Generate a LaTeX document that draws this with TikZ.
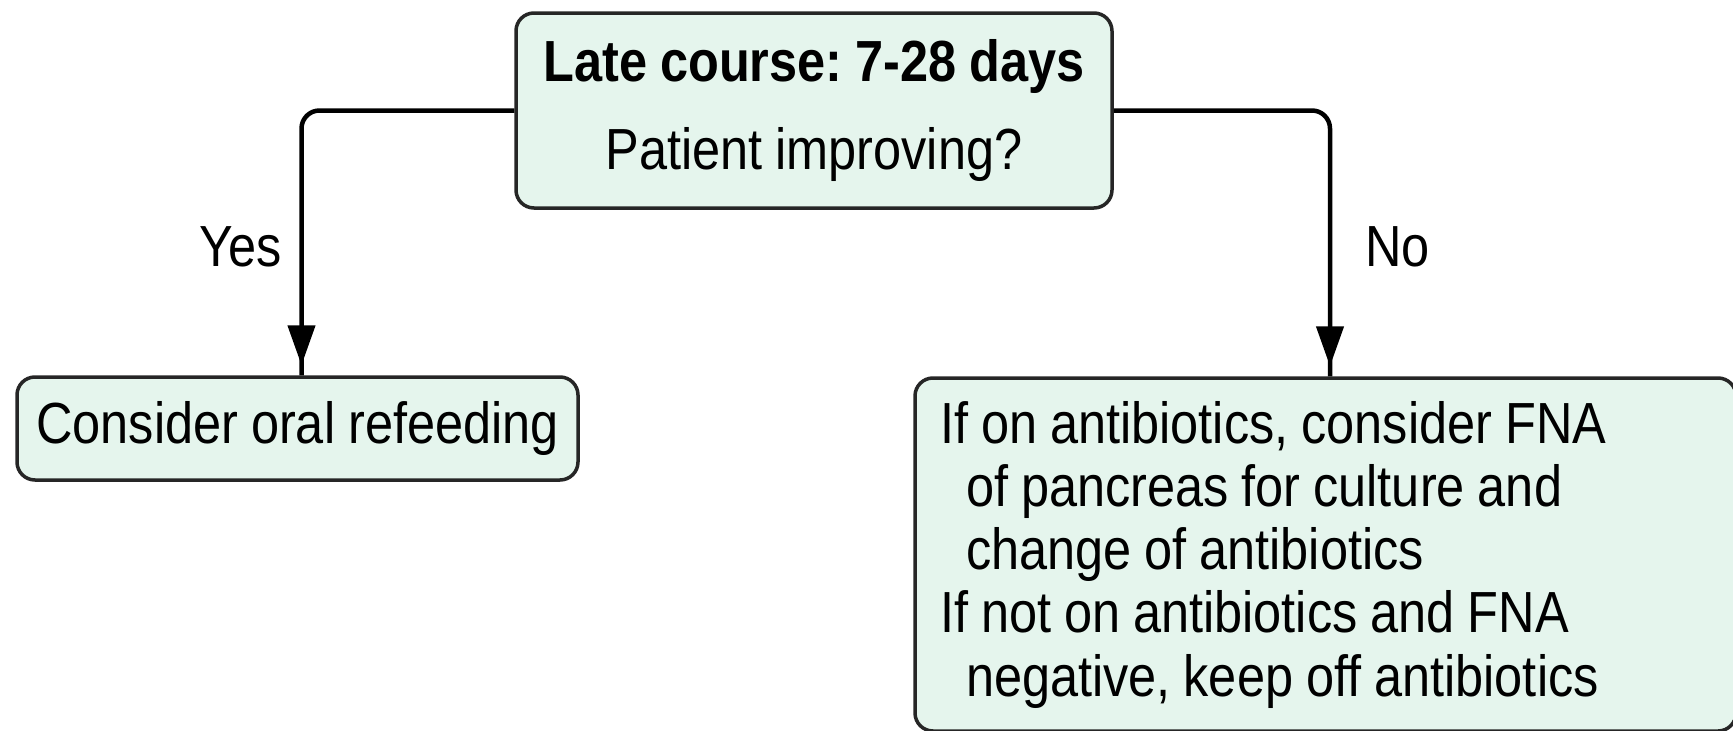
\documentclass[tikz,border=0pt]{standalone}
\usepackage{fontspec}
\setmainfont[FakeStretch=0.87]{Liberation Sans}
\usetikzlibrary{arrows.meta,decorations.markings}
\definecolor{boxfill}{RGB}{229,245,237}
\newcommand\diagfont{\fontsize{58}{63.25}\selectfont\setlength{\spaceskip}{13pt}\setlength{\xspaceskip}{13pt}}
\begin{document}
\begin{tikzpicture}[x=1pt,y=-1pt,
  box/.style={draw=black!85, line width=3.5pt, fill=boxfill, rounded corners=18pt, inner sep=0pt},
  txt/.style={font=\diagfont},
  conn/.style={draw=black, line width=4.5pt, rounded corners=18pt,
    postaction={decorate, sharp corners},
    decoration={markings, mark=at position -10pt with {\arrow{Triangle[length=40pt,width=27pt]}}}}
]
\useasboundingbox (0,0) rectangle (1733,731);
\node[box, txt, minimum width=596pt, minimum height=195pt, align=center] (top) at (814,110.5)
  {\textbf{Late course: 7-28 days}\\[24pt]Patient improving?};
\node[box, txt, minimum width=561pt, minimum height=103pt] (left) at (297.5,428.5)
  {Consider oral refeeding};
\node[box, txt, minimum width=821pt, minimum height=353pt, text width=771pt, inner xsep=25pt, align=flush left] (right) at (1325.5,554.5)
  {If on antibiotics, consider FNA\\
   \hspace*{26pt}of pancreas for culture and\\
   \hspace*{26pt}change of antibiotics\\
   If not on antibiotics and FNA\\
   \hspace*{26pt}negative, keep off antibiotics};
\draw[conn] (top.west) -| ([xshift=4pt]left.north);
\draw[conn] (top.east) -| ([xshift=4.5pt]right.north);
\node[txt, anchor=base] (yes) at (241,266) {Yes};
\node[txt, anchor=base] (no) at (1397.5,266) {No};
\end{tikzpicture}
\end{document}
